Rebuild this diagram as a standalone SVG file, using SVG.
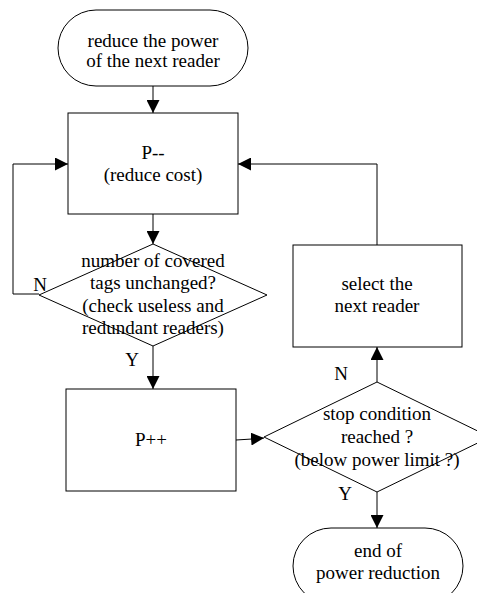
<svg xmlns="http://www.w3.org/2000/svg" width="477" height="593" viewBox="0 0 477 593">
<defs>
<marker id="arr" markerUnits="userSpaceOnUse" markerWidth="13" markerHeight="13" refX="13" refY="6.5" orient="auto">
<path d="M0,0 L13,6.5 L0,13 z" fill="#000"/>
</marker>
</defs>
<style>
.n{fill:#fff;stroke:#000;stroke-width:1}
.c{fill:none;stroke:#000;stroke-width:1;marker-end:url(#arr)}
.l{fill:none;stroke:#000;stroke-width:1}
text{font-family:"Liberation Serif","Times New Roman",serif;font-size:19px;fill:#000;text-anchor:middle}
</style>
<rect width="477" height="593" fill="#fff"/>
<g id="connectors">
<line class="c" x1="153" y1="86" x2="153" y2="113"/>
<line class="c" x1="153" y1="214" x2="153" y2="244"/>
<line class="c" x1="153" y1="346" x2="153" y2="389"/>
<polyline class="c" points="39,294 13,294 13,164 68,164"/>
<polyline class="c" points="377,245 377,164 238,164"/>
<line class="c" x1="377" y1="382" x2="377" y2="347"/>
<polyline class="c" points="236,440 252,439 264,438"/>
<line class="c" x1="377" y1="492" x2="377" y2="528"/>
<text x="40" y="291">N</text>
<text x="132" y="366">Y</text>
<text x="341" y="380">N</text>
<text x="345" y="500">Y</text>
</g>
<g id="start">
<rect class="n" x="58" y="10" width="190" height="76" rx="38" ry="38"/>
<text x="153" y="47">reduce the power</text>
<text x="153" y="67">of the next reader</text>
</g>
<g id="reduce">
<rect class="n" x="68" y="113" width="170" height="101"/>
<text x="153" y="159">P--</text>
<text x="153" y="181">(reduce cost)</text>
</g>
<g id="check">
<polygon class="l" points="153,244 267,295 153,346 39,295"/>
<text x="153" y="267">number of covered</text>
<text x="153" y="289">tags unchanged?</text>
<text x="153" y="312">(check useless and</text>
<text x="153" y="334">redundant readers)</text>
</g>
<g id="increase">
<rect class="n" x="66" y="389" width="170" height="102"/>
<text x="151" y="446">P++</text>
</g>
<g id="select">
<rect class="n" x="293" y="245" width="169" height="102"/>
<text x="377" y="290">select the</text>
<text x="377" y="312">next reader</text>
</g>
<g id="stop">
<polygon class="l" points="377,382 490,437 377,492 264,437"/>
<text x="377" y="420">stop condition</text>
<text x="377" y="443">reached ?</text>
<text x="377" y="466">(below power limit ?)</text>
</g>
<g id="end">
<rect class="n" x="293" y="528" width="170" height="76" rx="38" ry="38"/>
<text x="378" y="557">end of</text>
<text x="378" y="579">power reduction</text>
</g>
</svg>
